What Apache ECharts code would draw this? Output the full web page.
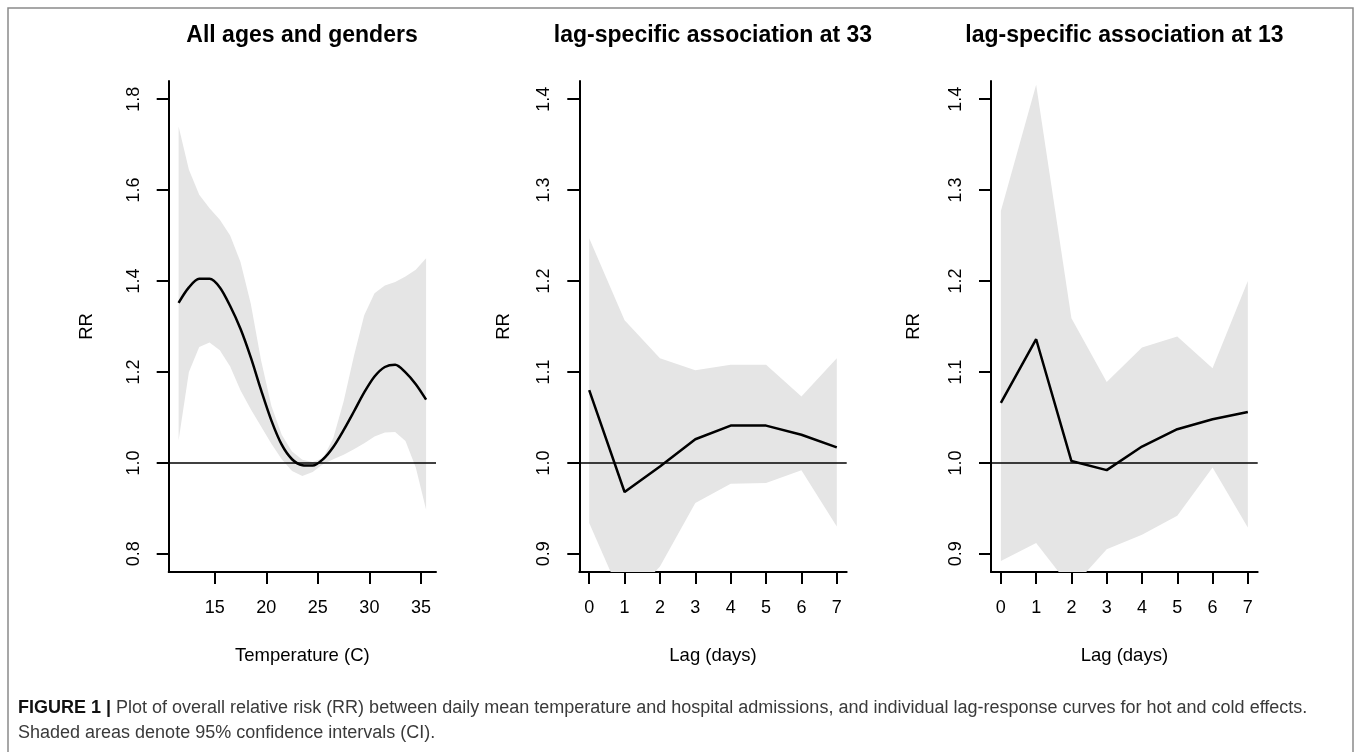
<!DOCTYPE html>
<html>
<head>
<meta charset="utf-8">
<script src="https://cdn.jsdelivr.net/npm/echarts@6/dist/echarts.min.js"></script>
<style>
html,body{margin:0;padding:0;background:#fff;}
#c{width:1357px;height:752px;}
</style>
</head>
<body>
<div id="c"></div>
<script>
// ---- Panel 1: overall cumulative association by temperature ----
const temps    = [11.5,12.5,13.5,14.5,15.5,16.5,17.5,18.5,19.5,20.5,21.5,22.5,23.5,24.5,25.5,26.5,27.5,28.5,29.5,30.5,31.5,32.5,33.5,34.5,35.5];
const rrAll    = [1.352,1.386,1.405,1.405,1.386,1.345,1.295,1.232,1.160,1.093,1.040,1.008,0.995,0.994,1.008,1.035,1.072,1.113,1.155,1.190,1.211,1.216,1.199,1.173,1.139];
const upperAll = [1.740,1.645,1.590,1.560,1.535,1.500,1.442,1.350,1.225,1.125,1.062,1.025,1.007,1.002,1.010,1.055,1.135,1.235,1.325,1.373,1.390,1.398,1.410,1.425,1.450];
const lowerAll = [1.050,1.200,1.255,1.265,1.248,1.212,1.160,1.118,1.080,1.042,1.008,0.982,0.971,0.980,0.997,1.008,1.018,1.030,1.043,1.058,1.067,1.068,1.048,0.990,0.897];

// ---- Panels 2 & 3: lag-specific associations ----
const lags   = [0,1,2,3,4,5,6,7];
const rr33   = [1.080,0.968,0.996,1.026,1.041,1.041,1.031,1.017];
const upper33= [1.247,1.157,1.115,1.102,1.108,1.108,1.073,1.115];
const lower33= [0.934,0.845,0.886,0.956,0.977,0.978,0.992,0.930];
const rr13   = [1.066,1.136,1.002,0.992,1.018,1.037,1.048,1.056];
const upper13= [1.277,1.416,1.159,1.089,1.127,1.139,1.104,1.200];
const lower13= [0.892,0.912,0.862,0.905,0.921,0.942,0.995,0.929];

// tick labels
const tempTicks = [15,20,25,30,35];
const lagTicks  = [0,1,2,3,4,5,6,7];
const rrTicksAll = [0.8,1.0,1.2,1.4,1.6,1.8];
const rrTicksLag = [0.9,1.0,1.1,1.2,1.3,1.4];

const titles = ['All ages and genders','lag-specific association at 33','lag-specific association at 13'];
const xNames = ['Temperature (C)','Lag (days)','Lag (days)'];
const yName = 'RR';

const FONT = '"Liberation Sans", Arial, Helvetica, sans-serif';
const grids = [
  {left:168.7, top:81, width:267.3, height:491},
  {left:579.3, top:81, width:267.4, height:491},
  {left:991,   top:81, width:266.7, height:491}
];
const xRanges = [[10.54,36.46],[-0.28,7.28],[-0.28,7.28]];
const yRanges = [[0.76,1.84],[0.88,1.42],[0.88,1.42]];
const yNameGaps = [72,66,68];

function xAxisOf(i, ticks){
  return {
    type:'value', gridIndex:i, min:xRanges[i][0], max:xRanges[i][1],
    axisLine:{show:true, onZero:false, lineStyle:{color:'#000', width:2}},
    axisTick:{show:true, inside:false, length:12, customValues:ticks, lineStyle:{color:'#000', width:2}},
    axisLabel:{show:true, customValues:ticks, fontSize:18, color:'#000', fontFamily:FONT, margin:27},
    splitLine:{show:false},
    name:xNames[i], nameLocation:'middle', nameGap:74,
    nameTextStyle:{fontSize:18.5, color:'#000', fontFamily:FONT}
  };
}
function yAxisOf(i, ticks){
  return {
    type:'value', gridIndex:i, min:yRanges[i][0], max:yRanges[i][1],
    axisLine:{show:true, onZero:false, lineStyle:{color:'#000', width:2}},
    axisTick:{show:true, inside:false, length:12, customValues:ticks, lineStyle:{color:'#000', width:2}},
    axisLabel:{show:true, customValues:ticks, rotate:90, fontSize:18, color:'#000', fontFamily:FONT, margin:26,
      formatter:function(v){return Number(v).toFixed(1);}},
    splitLine:{show:false},
    name:yName, nameLocation:'middle', nameGap:yNameGaps[i],
    nameTextStyle:{fontSize:18.5, color:'#000', fontFamily:FONT}
  };
}

function panelSeries(i, xs, rr, up, lo, smooth){
  return [
    {type:'custom', xAxisIndex:i, yAxisIndex:i, silent:true, clip:true, z:1,
     data:xs.map((x,k)=>[x, lo[k], up[k]]),
     encode:{x:0, y:[1,2]},
     renderItem:function(params, api){
       if (params.dataIndex !== 0) return null;
       const pts = [];
       for (let k=0;k<xs.length;k++) pts.push(api.coord([xs[k], up[k]]));
       for (let k=xs.length-1;k>=0;k--) pts.push(api.coord([xs[k], lo[k]]));
       return {type:'polygon', shape:{points:pts}, style:{fill:'#e5e5e5', stroke:'none'}};
     }},
    {type:'line', xAxisIndex:i, yAxisIndex:i, silent:true, symbol:'none', smooth:smooth,
     lineStyle:{color:'#000', width:2.5}, data:xs.map((x,k)=>[x, rr[k]]), z:3,
     markLine:{silent:true, symbol:['none','none'], label:{show:false},
       lineStyle:{color:'#000', width:1.6, type:'solid'}, data:[{yAxis:1}]}}
  ];
}

const titleX = [302, 713, 1124.5];
const graphics = titles.map((t,i)=>({
  type:'text', x:titleX[i], y:36,
  style:{text:t, fontSize:23, fontWeight:'bold', fontFamily:FONT, fill:'#000',
         align:'center', verticalAlign:'middle', textAlign:'center', textVerticalAlign:'middle'}
}));
graphics.push({type:'rect', shape:{x:8, y:8, width:1345, height:800},
  style:{fill:'none', stroke:'#8a8a8a', lineWidth:1.5}, silent:true});
graphics.push({type:'text', x:18, y:695,
  style:{
    text:'{b|FIGURE 1 |} Plot of overall relative risk (RR) between daily mean temperature and hospital admissions, and individual lag-response curves for hot and cold effects.\nShaded areas denote 95% confidence intervals (CI).',
    fontSize:18, fontFamily:FONT, fill:'#3a3a3a', lineHeight:25.5,
    align:'left', verticalAlign:'top', textAlign:'left', textVerticalAlign:'top',
    rich:{b:{fontSize:18, fontWeight:'bold', fontFamily:FONT, fill:'#111', lineHeight:25.5}}
  }});

const option = {
  animation:false,
  backgroundColor:'#fff',
  grid:grids,
  xAxis:[xAxisOf(0,tempTicks), xAxisOf(1,lagTicks), xAxisOf(2,lagTicks)],
  yAxis:[yAxisOf(0,rrTicksAll), yAxisOf(1,rrTicksLag), yAxisOf(2,rrTicksLag)],
  series:[].concat(
    panelSeries(0, temps, rrAll, upperAll, lowerAll, 0.3),
    panelSeries(1, lags, rr33, upper33, lower33, false),
    panelSeries(2, lags, rr13, upper13, lower13, false)
  ),
  graphic:graphics
};
const chart = echarts.init(document.getElementById('c'), null, {renderer:'canvas'});
chart.setOption(option);
</script>
</body>
</html>
